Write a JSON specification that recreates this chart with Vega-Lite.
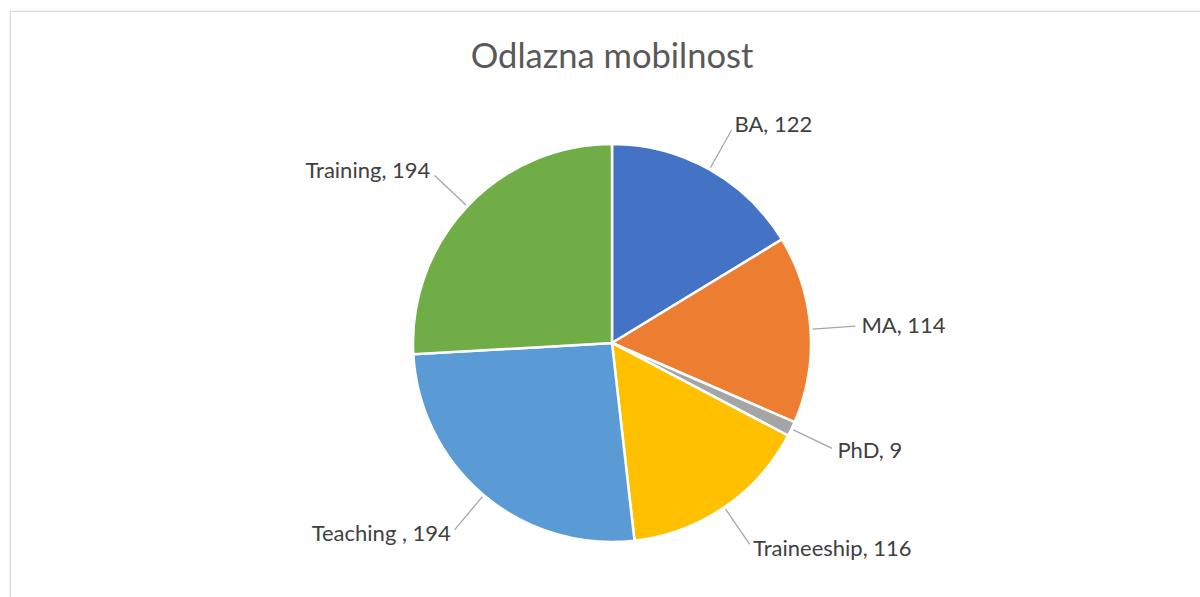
{
  "$schema": "https://vega.github.io/schema/vega-lite/v6.json",
  "width": 1204,
  "height": 664,
  "padding": {"left": 10, "top": 11, "right": 0, "bottom": 0},
  "background": "white",
  "view": {"stroke": "#d9d9d9", "strokeWidth": 1.2, "fill": "white"},
  "title": {
    "text": "Odlazna mobilnost",
    "font": "Lato",
    "fontSize": 34.5,
    "fontWeight": "normal",
    "color": "#595959",
    "anchor": "middle",
    "offset": -64
  },
  "config": {"view": {"stroke": "#d9d9d9", "strokeWidth": 1.2}},
  "data": {
    "values": [
      {"category": "BA", "value": 122, "label": "BA, 122", "ord": 1},
      {"category": "MA", "value": 114, "label": "MA, 114", "ord": 2},
      {"category": "PhD", "value": 9, "label": "PhD, 9", "ord": 3},
      {"category": "Traineeship", "value": 116, "label": "Traineeship, 116", "ord": 4},
      {"category": "Teaching ", "value": 194, "label": "Teaching , 194", "ord": 5},
      {"category": "Training", "value": 194, "label": "Training, 194", "ord": 6}
    ]
  },
  "encoding": {
    "theta": {"field": "value", "type": "quantitative", "stack": true},
    "order": {"field": "ord", "type": "quantitative"}
  },
  "layer": [
    {
      "mark": {"type": "arc", "outerRadius": 199, "stroke": "white", "strokeWidth": 2.5},
      "encoding": {
        "color": {
          "field": "category",
          "type": "nominal",
          "legend": null,
          "scale": {
            "domain": ["BA", "MA", "PhD", "Traineeship", "Teaching ", "Training"],
            "range": ["#4472C4", "#ED7D31", "#A5A5A5", "#FFC000", "#5B9BD5", "#70AD47"]
          }
        }
      }
    },
    {
      "mark": {"type": "arc", "radius": 244, "radius2": 201, "padAngle": 3.14159, "fill": "transparent", "stroke": "#a6a6a6", "strokeWidth": 1.3},
      "encoding": {"detail": {"field": "category", "type": "nominal"}}
    },
    {
      "mark": {"type": "text", "radius": 250, "align": "left", "baseline": "middle", "font": "Lato", "fontSize": 22, "color": "#404040"},
      "encoding": {
        "detail": {"field": "category", "type": "nominal"},
        "text": {
          "condition": {"test": {"field": "category", "oneOf": ["Teaching ", "Training"]}, "value": ""},
          "field": "label"
        }
      }
    },
    {
      "mark": {"type": "text", "radius": 250, "align": "right", "baseline": "middle", "font": "Lato", "fontSize": 22, "color": "#404040"},
      "encoding": {
        "detail": {"field": "category", "type": "nominal"},
        "text": {
          "condition": {"test": {"field": "category", "oneOf": ["BA", "MA", "PhD", "Traineeship"]}, "value": ""},
          "field": "label"
        }
      }
    }
  ]
}
